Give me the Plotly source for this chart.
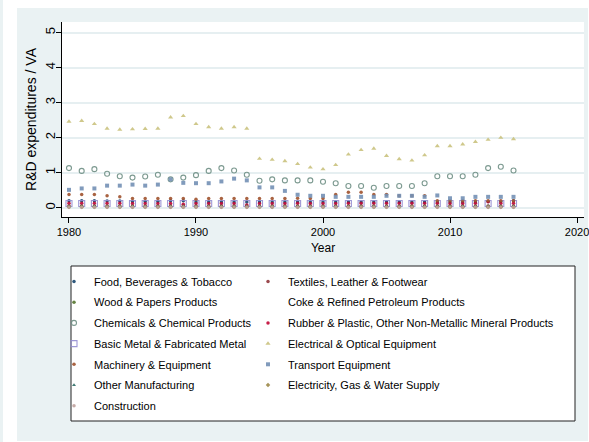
import plotly.graph_objects as go

years = list(range(1980, 2016))

food = [0.20, 0.20, 0.20, 0.19, 0.19, 0.18, 0.18, 0.18, 0.20, 0.20,
        0.16, 0.16, 0.16, 0.16, 0.16, 0.16, 0.16, 0.16, 0.16, 0.16,
        0.16, 0.16, 0.16, 0.16, 0.16, 0.16, 0.16, 0.16, 0.16, 0.16,
        0.16, 0.16, 0.16, 0.18, 0.18, 0.20]
textiles = [0.05] * 36
wood = [0.03] * 36
coke = [None] * 36
chemicals = [1.13, 1.05, 1.10, 0.97, 0.90, 0.86, 0.89, 0.94, 0.81, 0.86,
             0.93, 1.05, 1.13, 1.06, 0.94, 0.77, 0.81, 0.78, 0.78, 0.78,
             0.74, 0.70, 0.62, 0.62, 0.57, 0.62, 0.62, 0.62, 0.70, 0.90,
             0.90, 0.90, 0.94, 1.13, 1.17, 1.06]
rubber = [0.13, 0.13, 0.13, 0.13, 0.13, 0.12, 0.12, 0.12, 0.12, 0.10,
          0.12, 0.12, 0.12, 0.12, 0.08, 0.12, 0.12, 0.12, 0.13, 0.12,
          0.12, 0.12, 0.13, 0.13, 0.13, 0.13, 0.13, 0.13, 0.13, 0.13,
          0.12, 0.12, 0.13, 0.17, 0.13, 0.13]
basic_metal = [0.12] * 36
electrical = [2.46, 2.48, 2.39, 2.26, 2.23, 2.24, 2.25, 2.26, 2.58, 2.62,
              2.39, 2.30, 2.26, 2.30, 2.26, 1.40, 1.37, 1.33, 1.25, 1.15,
              1.10, 1.22, 1.52, 1.65, 1.69, 1.48, 1.39, 1.35, 1.50, 1.76,
              1.76, 1.81, 1.88, 1.94, 2.00, 1.96]
machinery = [0.38, 0.38, 0.38, 0.34, 0.31, 0.26, 0.26, 0.26, 0.26, 0.26,
             0.24, 0.26, 0.26, 0.26, 0.26, 0.26, 0.26, 0.26, 0.27, 0.26,
             0.26, 0.38, 0.44, 0.44, 0.38, 0.38, 0.34, 0.34, 0.34, 0.20,
             0.20, 0.20, 0.20, 0.20, 0.20, 0.20]
transport = [0.51, 0.55, 0.55, 0.63, 0.63, 0.66, 0.63, 0.66, 0.81, 0.71,
             0.70, 0.70, 0.75, 0.83, 0.78, 0.58, 0.58, 0.48, 0.37, 0.34,
             0.34, 0.31, 0.31, 0.31, 0.31, 0.34, 0.34, 0.34, 0.31, 0.35,
             0.27, 0.27, 0.31, 0.31, 0.31, 0.31]
other_manuf = [0.05] * 36
electricity = [0.02] * 36
construction = [0.01] * 36

# (name, values, colour, symbol, marker size, legend column)
series = [
    ("Food, Beverages & Tobacco", food, "#1a476f", "circle", 3.5, "legend"),
    ("Textiles, Leather & Footwear", textiles, "#90353b", "circle", 3.5, "legend2"),
    ("Wood & Papers Products", wood, "#55752f", "circle", 3.5, "legend"),
    ("Coke & Refined Petroleum Products", coke, "rgba(0,0,0,0)", "circle", 3.5, "legend2"),
    ("Chemicals & Chemical Products", chemicals, "#6e8e84", "circle-open", 5, "legend"),
    ("Rubber & Plastic, Other Non-Metallic Mineral Products", rubber, "#c10534", "circle", 3.5, "legend2"),
    ("Basic Metal & Fabricated Metal", basic_metal, "#938dd2", "square-open", 6, "legend"),
    ("Electrical & Optical Equipment", electrical, "#cac27e", "triangle-up", 4.5, "legend2"),
    ("Machinery & Equipment", machinery, "#a0522d", "circle", 3.5, "legend"),
    ("Transport Equipment", transport, "#7390b5", "square", 4, "legend2"),
    ("Other Manufacturing", other_manuf, "#2d6d66", "triangle-up", 3.5, "legend"),
    ("Electricity, Gas & Water Supply", electricity, "#9c8847", "diamond", 3.5, "legend2"),
    ("Construction", construction, "#bfa19c", "circle", 3.5, "legend"),
]

REG = "Liberation Sans, Arial, Helvetica, sans-serif"

fig = go.Figure()
for i, (name, vals, col, sym, sz, leg) in enumerate(series):
    fig.add_trace(go.Scatter(
        x=years, y=vals, mode="markers", name=name, legend=leg, legendgroup="g%d" % i,
        marker=dict(color=col, symbol=sym, size=sz, opacity=0.9,
                    line=dict(width=1.1, color=col) if "open" in sym else dict(width=0)),
    ))

W, H = 589, 442
L, R, T, B = 62, 584, 22, 217


def px(x):
    return (x - L) / (R - L)


def py(y):
    return (B - y) / (B - T)


shapes = [
    dict(type="rect", xref="paper", yref="paper", x0=px(0), x1=px(3), y0=py(442), y1=py(0),
         fillcolor="#eaf2f3", line=dict(width=0), layer="below"),
    dict(type="rect", xref="paper", yref="paper", x0=px(17), x1=px(588), y0=py(441), y1=py(8),
         fillcolor="#eaf2f3", line=dict(width=0), layer="below"),
    dict(type="rect", xref="paper", yref="paper", x0=0, x1=1, y0=0, y1=1,
         fillcolor="white", line=dict(width=0), layer="below"),
    dict(type="rect", xref="paper", yref="paper", x0=px(71), x1=px(575), y0=py(421), y1=py(266),
         fillcolor="white", line=dict(width=1, color="#222"), layer="below"),
]

leg_common = dict(
    orientation="v", xanchor="left", yanchor="top",
    borderwidth=0, bgcolor="rgba(0,0,0,0)", tracegroupgap=1.7,
    font=dict(family=REG, size=11, color="black"), itemsizing="trace",
)

fig.update_layout(
    width=W, height=H,
    margin=dict(l=L, r=W - R, t=T, b=H - B, pad=0, autoexpand=False),
    paper_bgcolor="white", plot_bgcolor="white",
    shapes=shapes,
    showlegend=True,
    legend=dict(x=px(54), y=py(267), **leg_common),
    legend2=dict(x=px(248), y=py(267), **leg_common),
    xaxis=dict(
        range=[1979.45, 2020.55], tickvals=[1980, 1990, 2000, 2010, 2020],
        showgrid=False, zeroline=False, showline=True, linecolor="black", linewidth=1.3,
        ticks="outside", ticklen=5, tickwidth=1.3, tickcolor="black",
        ticklabeloverflow="allow",
        tickfont=dict(family=REG, size=11, color="black"),
        title=dict(text="Year", font=dict(family=REG, size=12, color="black"), standoff=6),
    ),
    yaxis=dict(
        range=[-0.265, 5.3], tickvals=[0, 1, 2, 3, 4, 5],
        showgrid=True, gridcolor="#e6eff1", gridwidth=1.5, zeroline=False,
        showline=True, linecolor="black", linewidth=1.3,
        ticks="outside", ticklen=5, tickwidth=1.3, tickcolor="black", tickangle=-90,
        ticklabelstandoff=-4,
        tickfont=dict(family=REG, size=13, color="black"),
        title=dict(text="R&D expenditures / VA", font=dict(family=REG, size=14, color="black"), standoff=2),
    ),
)

fig.write_html(
    "out.html",
    config={"displayModeBar": False},
    post_script="document.body.style.margin='0px';document.body.style.overflow='hidden';",
)
